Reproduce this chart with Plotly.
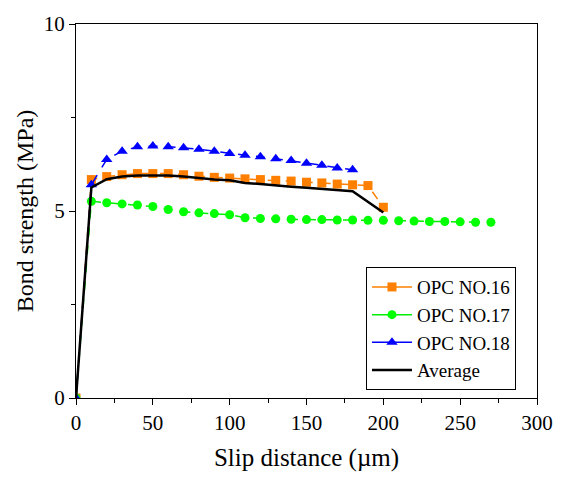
import plotly.graph_objects as go

x16 = [0, 10, 20, 30, 40, 50, 60, 70, 80, 90, 100, 110, 120, 130, 140, 150, 160, 170, 180, 190, 200]
y16 = [0, 5.84, 5.92, 5.97, 6.0, 6.0, 6.0, 5.97, 5.93, 5.9, 5.88, 5.86, 5.84, 5.82, 5.8, 5.77, 5.75, 5.72, 5.7, 5.68, 5.1]

x17 = [0, 10, 20, 30, 40, 50, 60, 70, 80, 90, 100, 110, 120, 130, 140, 150, 160, 170, 180, 190, 200,
       210, 220, 230, 240, 250, 260, 270]
y17 = [0, 5.26, 5.22, 5.19, 5.16, 5.12, 5.04, 4.98, 4.95, 4.93, 4.9, 4.82, 4.8, 4.79, 4.78, 4.77, 4.77,
       4.76, 4.76, 4.75, 4.75, 4.74, 4.73, 4.72, 4.72, 4.71, 4.7, 4.7]

x18 = [0, 10, 20, 30, 40, 50, 60, 70, 80, 90, 100, 110, 120, 130, 140, 150, 160, 170, 180]
y18 = [0, 5.7, 6.38, 6.6, 6.72, 6.74, 6.72, 6.69, 6.65, 6.6, 6.54, 6.49, 6.45, 6.4, 6.35, 6.28, 6.22, 6.15, 6.1]

xavg = [0, 10, 20, 30, 40, 50, 60, 70, 80, 90, 100, 110, 120, 130, 140, 150, 160, 170, 180, 200]
yavg = [0, 5.63, 5.85, 5.92, 5.95, 5.96, 5.95, 5.92, 5.88, 5.84, 5.82, 5.75, 5.72, 5.68, 5.65, 5.62,
        5.59, 5.56, 5.53, 4.96]

names = ["OPC NO.16", "OPC NO.17", "OPC NO.18", "Average"]
xticks = [0, 50, 100, 150, 200, 250, 300]
yticks = [0, 5, 10]

FONT = "Liberation Serif"

styles = [
    (x16, y16, "#FF8000", "#FF7F00", "square", 9),
    (x17, y17, "#00EE00", "#00FF00", "circle", 9),
    (x18, y18, "#0000FF", "#0000FF", "triangle-up", 10),
]

fig = go.Figure()
for (xs, ys, lc, mc, sym, sz), nm in zip(styles, names[:3]):
    fig.add_trace(go.Scatter(x=xs, y=ys, name=nm, mode="lines+markers", showlegend=False,
                             line=dict(color=lc, width=1.5, dash="dash"),
                             marker=dict(symbol=sym, size=sz, color=mc)))
fig.add_trace(go.Scatter(x=xavg, y=yavg, name=names[3], mode="lines", showlegend=False,
                         line=dict(color="black", width=2.5)))

# legend entries (solid lines as in the reference legend)
for (xs, ys, lc, mc, sym, sz), nm in zip(styles, names[:3]):
    fig.add_trace(go.Scatter(x=[None], y=[None], name=nm, mode="lines+markers",
                             line=dict(color=lc, width=1.5),
                             marker=dict(symbol=sym, size=sz, color=mc)))
fig.add_trace(go.Scatter(x=[None], y=[None], name=names[3], mode="lines",
                         line=dict(color="black", width=2.5)))

fig.update_xaxes(range=[0, 300], tickmode="array", tickvals=xticks, ticktext=[str(v) for v in xticks],
                 showline=True, linecolor="black", linewidth=1, mirror=True,
                 showgrid=False, zeroline=False, ticks="outside", ticklen=6, tickcolor="black",
                 tickfont=dict(family=FONT, size=21, color="black"),
                 minor=dict(tickvals=[25, 75, 125, 175, 225, 275], ticks="outside", ticklen=4,
                            tickcolor="black"),
                 title=dict(text="Slip distance (µm)", font=dict(family=FONT, size=25, color="black"),
                            standoff=14))
fig.update_yaxes(range=[0, 10], tickmode="array", tickvals=yticks, ticktext=[str(v) for v in yticks],
                 showline=True, linecolor="black", linewidth=1, mirror=True,
                 showgrid=False, zeroline=False, ticks="outside", ticklen=6, tickcolor="black",
                 tickfont=dict(family=FONT, size=21, color="black"),
                 minor=dict(tickvals=[2.5, 7.5], ticks="outside", ticklen=4, tickcolor="black"),
                 title=dict(text="Bond strength (MPa)", font=dict(family=FONT, size=24, color="black"),
                            standoff=3))

fig.update_layout(
    width=565, height=479,
    font=dict(family=FONT, size=19, color="black"),
    margin=dict(l=76, r=20, t=19, b=78),
    plot_bgcolor="white", paper_bgcolor="white",
    legend=dict(x=0.629, y=0.35, xanchor="left", yanchor="top",
                bordercolor="black", borderwidth=1, bgcolor="white",
                font=dict(family=FONT, size=19, color="black"),
                tracegroupgap=0, itemwidth=40),
)

fig.write_html("out.html")
